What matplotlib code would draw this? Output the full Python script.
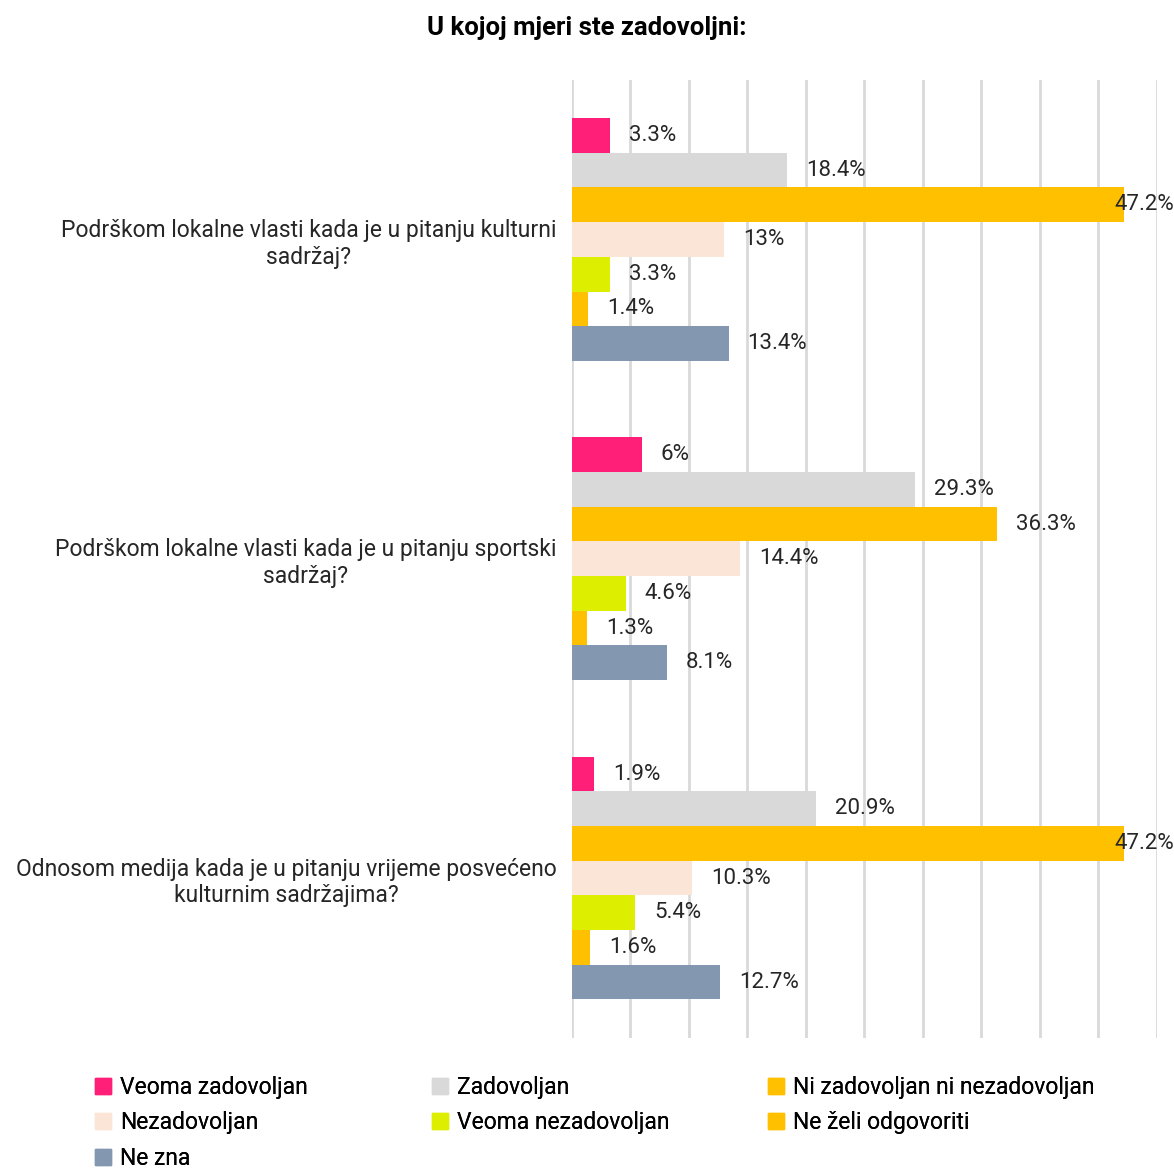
import matplotlib.pyplot as plt
import numpy as np
from matplotlib.patches import Patch

plt.rcParams['font.family'] = ['Roboto', 'DejaVu Sans']

# Données
pitanja = [
    "Podrškom lokalne vlasti kada je u pitanju kulturni\nsadržaj?",
    "Podrškom lokalne vlasti kada je u pitanju sportski\nsadržaj?",
    "Odnosom medija kada je u pitanju vrijeme posvećeno\nkulturnim sadržajima?",
]
serije = [
    "Veoma zadovoljan",
    "Zadovoljan",
    "Ni zadovoljan ni nezadovoljan",
    "Nezadovoljan",
    "Veoma nezadovoljan",
    "Ne želi odgovoriti",
    "Ne zna",
]
veoma_zadovoljan = [3.3, 6.0, 1.9]
zadovoljan = [18.4, 29.3, 20.9]
ni_ni = [47.2, 36.3, 47.2]
nezadovoljan = [13.0, 14.4, 10.3]
veoma_nezadovoljan = [3.3, 4.6, 5.4]
ne_zeli = [1.4, 1.3, 1.6]
ne_zna = [13.4, 8.1, 12.7]
oznake = [
    ["3.3%", "6%", "1.9%"],
    ["18.4%", "29.3%", "20.9%"],
    ["47.2%", "36.3%", "47.2%"],
    ["13%", "14.4%", "10.3%"],
    ["3.3%", "4.6%", "5.4%"],
    ["1.4%", "1.3%", "1.6%"],
    ["13.4%", "8.1%", "12.7%"],
]
boje = ["#FF1F78", "#D9D9D9", "#FFC000", "#FBE5D6", "#DDEE00", "#FFC000", "#8497B0"]

vrijednosti = [veoma_zadovoljan, zadovoljan, ni_ni, nezadovoljan,
               veoma_nezadovoljan, ne_zeli, ne_zna]

fig = plt.figure(figsize=(11.74, 11.74), dpi=100)
ax = fig.add_axes([0.487, 0.116, 0.4985, 0.816])

y = np.arange(len(pitanja))
h = 0.76 / len(serije)

for i, (vals, boja) in enumerate(zip(vrijednosti, boje)):
    pos = y + (i - 3) * h
    ax.barh(pos, vals, height=h, color=boja, zorder=2, label=serije[i])
    for p, v, t in zip(pos, vals, oznake[i]):
        if v > 45:
            ax.annotate(t, (v, p), xytext=(50, 0), textcoords='offset pixels',
                        ha='right', va='center', fontsize=16, color='#262626',
                        zorder=3, annotation_clip=False)
        else:
            ax.annotate(t, (v, p), xytext=(19, 0), textcoords='offset pixels',
                        ha='left', va='center', fontsize=16, color='#262626',
                        zorder=3)

ax.set_xlim(0, 50)
ax.set_ylim(2.5, -0.5)
ax.set_xticks(np.arange(0, 51, 5))
ax.xaxis.grid(True, color='#D9D9D9', linewidth=2, zorder=0)
ax.tick_params(axis='both', length=0, labelbottom=False)
ax.set_yticks(y)
ax.set_yticklabels(pitanja, fontsize=16.5, color='#262626', multialignment='center')
ax.tick_params(axis='y', pad=11)
for s in ax.spines.values():
    s.set_visible(False)

fig.text(0.5, 0.976, "U kojoj mjeri ste zadovoljni:", ha='center', va='center',
         fontsize=18.5, fontweight='bold', color='black')

# Légende en trois colonnes placées séparément
handles = [Patch(color=b) for b in boje]
colonnes = [[0, 3, 6], [1, 4], [2, 5]]
x_col = [0.081, 0.368, 0.654]
for idx, xc in zip(colonnes, x_col):
    leg = fig.legend([handles[k] for k in idx], [serije[k] for k in idx],
                     ncol=1, loc='upper left', bbox_to_anchor=(xc, 0.0835),
                     frameon=False, fontsize=16.5, handlelength=0.7,
                     handleheight=0.7, handletextpad=0.4, labelspacing=0.54,
                     borderaxespad=0, borderpad=0)
    fig.add_artist(leg)

fig.savefig('out.png', dpi=100)
